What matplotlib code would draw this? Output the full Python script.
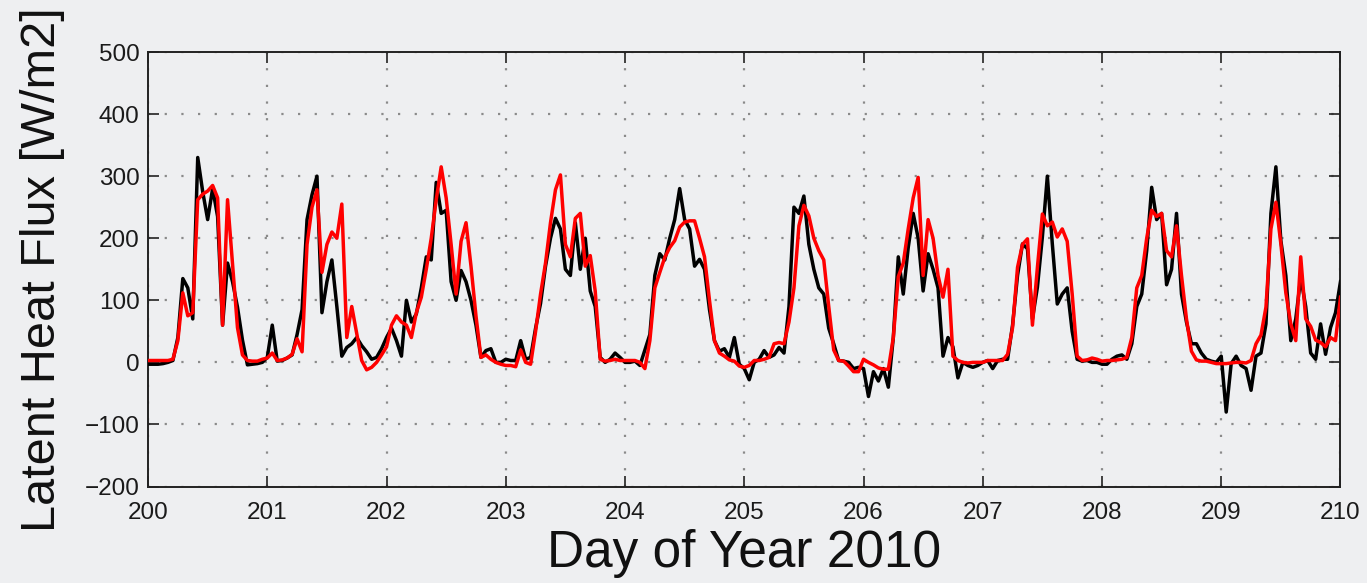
import numpy as np
import matplotlib
matplotlib.use("Agg")
import matplotlib.pyplot as plt

plt.rcParams['font.family'] = ['Liberation Sans', 'DejaVu Sans']

# Hourly latent heat flux, day-of-year 200 to 210 (W/m2)
day_start = 200
day_end = 210
samples_per_day = 24

observed = [
    # 200
    -3, -3, -3, -2, 0, 3, 40, 135, 120, 70, 330, 275, 230, 280, 235, 60, 160, 130, 89, 36, -4, -3, -2, 0,
    # 201
    8, 60, 2, 3, 7, 12, 45, 85, 230, 270, 300, 80, 130, 165, 90, 10, 24, 30, 40, 27, 17, 5, 8, 22,
    # 202
    40, 55, 35, 10, 100, 65, 78, 120, 170, 165, 290, 240, 245, 130, 100, 148, 130, 100, 60, 8, 19, 22, 0, 0,
    # 203
    5, 3, 3, 35, 5, 8, 55, 95, 155, 200, 232, 215, 150, 140, 225, 150, 200, 115, 90, 8, 0, 5, 15, 8,
    # 204
    0, 0, 2, -5, 20, 45, 140, 175, 165, 200, 230, 280, 230, 215, 155, 166, 150, 85, 35, 18, 22, 8, 40, -3,
    # 205
    -10, -28, 0, 5, 19, 8, 12, 24, 15, 90, 250, 240, 268, 190, 150, 120, 110, 55, 30, 3, 2, 0, -10, -8,
    # 206
    -10, -55, -15, -30, -10, -40, 40, 170, 110, 185, 240, 200, 115, 175, 150, 120, 10, 40, 25, -25, 0, -5, -8, -5,
    # 207
    0, 3, -10, 3, 5, 5, 60, 140, 191, 183, 70, 121, 202, 300, 191, 94, 110, 120, 50, 5, 2, 3, 0, 0,
    # 208
    -3, -3, 5, 10, 12, 5, 30, 90, 110, 180, 282, 230, 240, 125, 150, 240, 110, 65, 30, 30, 15, 5, 2, 0,
    # 209
    10, -80, -2, 10, -5, -10, -45, 10, 15, 62, 240, 315, 196, 140, 35, 70, 137, 90, 15, 5, 62, 13, 56, 80,
    # 210
    130,
]

modeled = [
    # 200
    3, 3, 3, 3, 3, 5, 35, 112, 75, 80, 262, 271, 276, 285, 265, 60, 262, 160, 56, 12, 3, 2, 2, 5,
    # 201
    7, 15, 3, 4, 7, 13, 38, 17, 190, 250, 278, 145, 190, 210, 200, 255, 40, 90, 46, 3, -12, -8, 0, 12,
    # 202
    25, 60, 75, 65, 60, 40, 80, 105, 150, 200, 262, 315, 265, 190, 110, 195, 225, 155, 75, 8, 12, 5, 0, -3,
    # 203
    -5, -5, -7, 20, 0, -3, 50, 110, 160, 225, 278, 302, 190, 170, 232, 240, 155, 172, 115, 5, 2, 3, 5, 3,
    # 204
    3, 3, 3, 0, -10, 35, 120, 145, 169, 185, 196, 218, 226, 228, 228, 200, 170, 100, 35, 15, 10, 4, 2, -6,
    # 205
    -8, -5, 3, 3, 5, 8, 30, 32, 30, 65, 120, 220, 253, 236, 200, 180, 165, 90, 20, 3, 2, -6, -15, -15,
    # 206
    5, 0, -4, -9, -11, -11, 40, 138, 160, 215, 265, 298, 140, 230, 200, 140, 105, 150, 10, 3, 0, -1, 0, 0,
    # 207
    0, 3, 3, 3, 3, 13, 56, 153, 190, 199, 60, 153, 239, 220, 226, 202, 215, 195, 110, 10, 3, 4, 7, 5,
    # 208
    2, 3, 3, 4, 5, 8, 40, 120, 140, 200, 245, 235, 240, 180, 170, 220, 140, 70, 18, 4, 2, 2, 0, -2,
    # 209
    -2, -2, -1, 0, 0, -1, 3, 30, 44, 89, 215, 258, 191, 112, 62, 35, 170, 70, 58, 36, 32, 25, 40, 35,
    # 210
    105,
]

x_ticks = list(range(200, 211))
y_ticks = list(range(-200, 501, 100))
x_label = "Day of Year 2010"
y_label = "Latent Heat Flux [W/m2]"

doy = day_start + np.arange(len(observed)) / samples_per_day

bg = "#eeeff1"
fig = plt.figure(figsize=(13.67, 5.83), dpi=100, facecolor=bg)
ax = fig.add_axes([0.1083, 0.1655, 0.8723, 0.7453], facecolor=bg)

ax.plot(doy, observed, color="black", linewidth=2.5, zorder=3)
ax.plot(doy, modeled, color="#ff0000", linewidth=2.5, zorder=4)

ax.set_xlim(day_start, day_end)
ax.set_ylim(-200, 500)
ax.set_xticks(x_ticks)
ax.set_yticks(y_ticks)
ax.set_yticklabels([str(v).replace("-", "\u2212") for v in y_ticks])

ax.grid(True, color="#8a8a8a", linestyle=(0, (1, 6.5)), linewidth=1.6)
ax.set_axisbelow(True)

for sp in ax.spines.values():
    sp.set_color("#222222")
    sp.set_linewidth(1.4)

ax.tick_params(axis="both", which="both", direction="in", length=8, width=1.2,
               color="#222222", top=True, right=True, labelsize=17.5,
               labelcolor="#1a1a1a")
ax.tick_params(axis="x", pad=11)
ax.tick_params(axis="y", pad=6)

ax.set_xlabel(x_label, fontsize=37, color="#111111", labelpad=4)
ax.set_ylabel(y_label, fontsize=35, color="#111111", labelpad=14)

fig.savefig("out.png", dpi=100, facecolor=bg)
